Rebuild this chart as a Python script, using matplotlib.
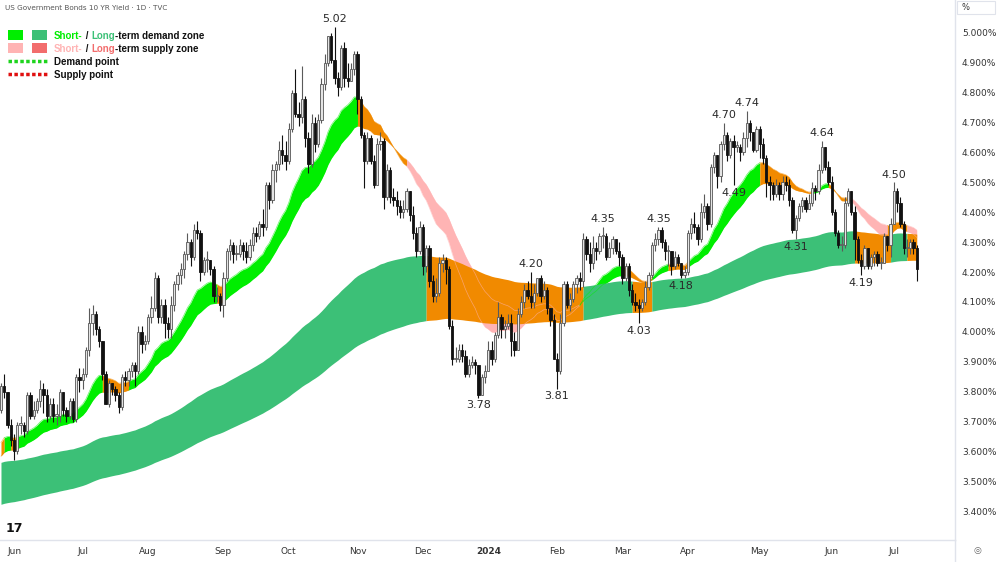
import numpy as np
import pandas as pd
import matplotlib
matplotlib.use('Agg')
import matplotlib.pyplot as plt
from matplotlib import font_manager
from matplotlib.patches import Rectangle
from matplotlib.lines import Line2D

# trading days shown on the chart
first_day = '2023-05-25'
last_day = '2024-07-11'
holidays = ['2023-05-29', '2023-06-19', '2023-07-04', '2023-09-04', '2023-10-09',
            '2023-11-10', '2023-11-23', '2023-12-25', '2024-01-01', '2024-01-15',
            '2024-02-19', '2024-03-29', '2024-05-27', '2024-06-19', '2024-07-04']

# daily candles (10Y yield, %)
opens = [
    3.74, 3.82, 3.80, 3.69,  # May 23
    3.64, 3.60, 3.69, 3.69, 3.67, 3.79, 3.72, 3.74, 3.77, 3.81, 3.79, 3.72, 3.76, 3.72, 3.72, 3.80, 3.74, 3.72, 3.77, 3.71, 3.85,
    3.84, 3.86, 3.94, 4.03, 4.06, 4.01, 3.97, 3.86, 3.76, 3.83, 3.81, 3.79, 3.75, 3.85, 3.84, 3.87, 3.89, 3.87, 4.00, 3.96,
    3.97, 4.05, 4.08, 4.18, 4.05, 4.09, 4.03, 4.01, 4.09, 4.16, 4.19, 4.21, 4.26, 4.30, 4.25, 4.34, 4.33, 4.20, 4.24, 4.24, 4.21, 4.12, 4.12,
    4.09, 4.18, 4.27, 4.29, 4.26, 4.26, 4.29, 4.27, 4.25, 4.29, 4.33, 4.32, 4.36, 4.35, 4.49, 4.44, 4.54, 4.56, 4.61, 4.59,
    4.57, 4.68, 4.80, 4.73, 4.72, 4.78, 4.65, 4.56, 4.70, 4.63, 4.71, 4.83, 4.90, 4.99, 4.91, 4.85, 4.82, 4.95, 4.85, 4.84, 4.88,
    4.93, 4.78, 4.66, 4.57, 4.65, 4.57, 4.49, 4.63, 4.64, 4.45, 4.54, 4.45, 4.44, 4.42, 4.40, 4.41, 4.47, 4.39, 4.33, 4.27,
    4.35, 4.22, 4.28, 4.17, 4.12, 4.13, 4.23, 4.24, 4.21, 4.02, 3.91, 3.91, 3.94, 3.92, 3.86, 3.89, 3.90, 3.89, 3.79, 3.85,
    3.87, 3.94, 3.91, 3.99, 4.05, 4.01, 4.02, 4.03, 3.97, 3.94, 4.06, 4.10, 4.14, 4.12, 4.10, 4.13, 4.18, 4.12, 4.14, 4.08, 4.04,
    3.91, 3.87, 4.03, 4.16, 4.09, 4.11, 4.16, 4.18, 4.17, 4.31, 4.26, 4.23, 4.28, 4.27, 4.32, 4.32, 4.25, 4.28, 4.31, 4.27,
    4.25, 4.18, 4.22, 4.14, 4.10, 4.09, 4.08, 4.10, 4.15, 4.19, 4.29, 4.31, 4.34, 4.30, 4.27, 4.27, 4.22, 4.25, 4.23, 4.19,
    4.20, 4.33, 4.36, 4.35, 4.31, 4.40, 4.42, 4.36, 4.55, 4.59, 4.52, 4.63, 4.66, 4.59, 4.64, 4.62, 4.62, 4.60, 4.65, 4.70, 4.67, 4.61,
    4.68, 4.63, 4.58, 4.50, 4.49, 4.46, 4.49, 4.46, 4.50, 4.49, 4.44, 4.34, 4.38, 4.42, 4.44, 4.41, 4.43, 4.48, 4.47, 4.54, 4.62, 4.55,
    4.50, 4.40, 4.33, 4.29, 4.29, 4.43, 4.47, 4.40, 4.31, 4.24, 4.22, 4.28, 4.22, 4.25, 4.26, 4.23, 4.23, 4.32, 4.29,
    4.36, 4.47, 4.43, 4.36, 4.28, 4.28, 4.30, 4.28,
]
highs = [
    3.83, 3.86, 3.80, 3.71,
    3.66, 3.70, 3.72, 3.70, 3.80, 3.80, 3.77, 3.78, 3.84, 3.83, 3.81, 3.78, 3.78, 3.76, 3.81, 3.80, 3.75, 3.78, 3.78, 3.86, 3.88,
    3.88, 3.95, 4.08, 4.09, 4.07, 4.02, 3.97, 3.87, 3.84, 3.83, 3.82, 3.80, 3.86, 3.87, 3.88, 3.90, 3.90, 4.02, 4.02, 3.99,
    4.06, 4.12, 4.20, 4.19, 4.11, 4.11, 4.05, 4.12, 4.17, 4.20, 4.23, 4.27, 4.33, 4.31, 4.36, 4.37, 4.34, 4.25, 4.27, 4.24, 4.22, 4.15, 4.13,
    4.20, 4.28, 4.31, 4.30, 4.29, 4.31, 4.30, 4.30, 4.31, 4.35, 4.35, 4.37, 4.41, 4.50, 4.50, 4.56, 4.57, 4.64, 4.66, 4.64,
    4.70, 4.81, 4.88, 4.77, 4.89, 4.79, 4.67, 4.73, 4.72, 4.73, 4.85, 4.93, 4.99, 5.00, 5.02, 4.87, 4.96, 4.97, 4.90, 4.90, 4.94,
    4.94, 4.79, 4.67, 4.67, 4.66, 4.59, 4.65, 4.67, 4.65, 4.56, 4.55, 4.48, 4.47, 4.44, 4.44, 4.48, 4.47, 4.42, 4.35, 4.37,
    4.36, 4.29, 4.29, 4.19, 4.18, 4.25, 4.26, 4.25, 4.22, 4.04, 3.95, 3.96, 3.96, 3.94, 3.91, 3.92, 3.91, 3.89, 3.86, 3.89,
    3.97, 3.97, 4.00, 4.10, 4.06, 4.04, 4.06, 4.06, 4.00, 4.08, 4.12, 4.16, 4.17, 4.20, 4.16, 4.18, 4.19, 4.17, 4.15, 4.08, 4.06,
    3.93, 4.06, 4.17, 4.17, 4.13, 4.17, 4.19, 4.20, 4.33, 4.32, 4.30, 4.32, 4.30, 4.33, 4.35, 4.33, 4.30, 4.32, 4.31, 4.30,
    4.26, 4.23, 4.23, 4.16, 4.13, 4.11, 4.11, 4.17, 4.20, 4.30, 4.33, 4.35, 4.35, 4.31, 4.29, 4.27, 4.27, 4.26, 4.23, 4.22,
    4.34, 4.38, 4.40, 4.36, 4.43, 4.46, 4.43, 4.56, 4.60, 4.59, 4.64, 4.70, 4.67, 4.65, 4.66, 4.64, 4.63, 4.67, 4.74, 4.71, 4.67, 4.69,
    4.69, 4.65, 4.59, 4.52, 4.50, 4.51, 4.50, 4.52, 4.52, 4.51, 4.45, 4.39, 4.43, 4.45, 4.45, 4.46, 4.50, 4.49, 4.56, 4.64, 4.62, 4.57,
    4.52, 4.41, 4.34, 4.32, 4.45, 4.48, 4.47, 4.42, 4.32, 4.26, 4.29, 4.28, 4.26, 4.27, 4.27, 4.25, 4.33, 4.32, 4.38,
    4.50, 4.48, 4.45, 4.37, 4.31, 4.31, 4.31, 4.29,
]
lows = [
    3.73, 3.78, 3.68, 3.62,
    3.57, 3.59, 3.66, 3.65, 3.66, 3.71, 3.71, 3.73, 3.75, 3.73, 3.70, 3.71, 3.70, 3.69, 3.70, 3.72, 3.70, 3.71, 3.70, 3.70, 3.80,
    3.81, 3.85, 3.92, 3.99, 3.99, 3.95, 3.84, 3.76, 3.75, 3.79, 3.77, 3.73, 3.74, 3.82, 3.82, 3.85, 3.82, 3.86, 3.93, 3.94,
    3.96, 4.03, 4.07, 4.03, 4.03, 3.98, 3.98, 3.98, 4.07, 4.14, 4.16, 4.18, 4.24, 4.22, 4.24, 4.31, 4.17, 4.19, 4.20, 4.19, 4.10, 4.10, 4.07,
    4.05, 4.17, 4.24, 4.23, 4.24, 4.25, 4.24, 4.23, 4.24, 4.27, 4.30, 4.31, 4.32, 4.34, 4.41, 4.43, 4.50, 4.54, 4.56, 4.54,
    4.56, 4.67, 4.72, 4.69, 4.70, 4.62, 4.53, 4.55, 4.60, 4.62, 4.70, 4.81, 4.89, 4.90, 4.83, 4.79, 4.81, 4.82, 4.82, 4.84, 4.86,
    4.73, 4.65, 4.48, 4.56, 4.56, 4.48, 4.49, 4.61, 4.41, 4.44, 4.43, 4.42, 4.39, 4.38, 4.38, 4.40, 4.37, 4.31, 4.25, 4.26,
    4.19, 4.20, 4.15, 4.10, 4.10, 4.12, 4.20, 4.16, 4.01, 3.89, 3.90, 3.90, 3.90, 3.85, 3.85, 3.88, 3.86, 3.78, 3.79, 3.83,
    3.87, 3.89, 3.90, 3.98, 3.98, 3.98, 4.01, 3.92, 3.92, 3.94, 4.05, 4.08, 4.11, 4.08, 4.08, 4.12, 4.10, 4.11, 4.06, 4.02, 3.91,
    3.81, 3.86, 4.02, 4.08, 4.07, 4.10, 4.13, 4.14, 4.15, 4.24, 4.20, 4.21, 4.24, 4.26, 4.28, 4.24, 4.25, 4.26, 4.26, 4.22,
    4.16, 4.17, 4.12, 4.09, 4.07, 4.03, 4.07, 4.09, 4.14, 4.18, 4.27, 4.29, 4.28, 4.24, 4.22, 4.19, 4.21, 4.22, 4.18, 4.18,
    4.19, 4.31, 4.33, 4.29, 4.30, 4.38, 4.34, 4.35, 4.53, 4.48, 4.50, 4.61, 4.57, 4.58, 4.49, 4.60, 4.57, 4.59, 4.62, 4.64, 4.60, 4.60,
    4.58, 4.56, 4.45, 4.44, 4.44, 4.45, 4.44, 4.44, 4.47, 4.42, 4.33, 4.31, 4.37, 4.40, 4.40, 4.41, 4.42, 4.44, 4.46, 4.53, 4.54, 4.49,
    4.39, 4.32, 4.28, 4.27, 4.28, 4.42, 4.39, 4.24, 4.23, 4.19, 4.21, 4.21, 4.21, 4.22, 4.22, 4.21, 4.23, 4.27, 4.25,
    4.36, 4.40, 4.35, 4.26, 4.25, 4.26, 4.26, 4.17,
]
closes = [
    3.82, 3.80, 3.69, 3.64,
    3.60, 3.69, 3.69, 3.67, 3.79, 3.72, 3.74, 3.77, 3.81, 3.79, 3.72, 3.76, 3.72, 3.72, 3.80, 3.74, 3.72, 3.77, 3.71, 3.85, 3.84,
    3.86, 3.94, 4.03, 4.06, 4.01, 3.97, 3.86, 3.76, 3.83, 3.81, 3.79, 3.75, 3.85, 3.84, 3.87, 3.89, 3.87, 4.00, 3.96, 3.97,
    4.05, 4.08, 4.18, 4.05, 4.09, 4.03, 4.01, 4.09, 4.16, 4.19, 4.21, 4.26, 4.30, 4.25, 4.34, 4.33, 4.20, 4.24, 4.24, 4.21, 4.12, 4.12, 4.09,
    4.18, 4.27, 4.29, 4.26, 4.26, 4.29, 4.27, 4.25, 4.29, 4.33, 4.32, 4.36, 4.35, 4.49, 4.44, 4.54, 4.56, 4.61, 4.59, 4.57,
    4.68, 4.80, 4.73, 4.72, 4.78, 4.65, 4.56, 4.70, 4.63, 4.71, 4.83, 4.90, 4.99, 4.91, 4.85, 4.82, 4.95, 4.85, 4.84, 4.88, 4.93,
    4.78, 4.66, 4.57, 4.65, 4.57, 4.49, 4.63, 4.64, 4.45, 4.54, 4.45, 4.44, 4.42, 4.40, 4.41, 4.47, 4.39, 4.33, 4.27, 4.35,
    4.22, 4.28, 4.17, 4.12, 4.13, 4.23, 4.24, 4.21, 4.02, 3.91, 3.91, 3.94, 3.92, 3.86, 3.89, 3.90, 3.89, 3.79, 3.85, 3.87,
    3.94, 3.91, 3.99, 4.05, 4.01, 4.02, 4.03, 3.97, 3.94, 4.06, 4.10, 4.14, 4.12, 4.10, 4.13, 4.18, 4.12, 4.14, 4.08, 4.04, 3.91,
    3.87, 4.03, 4.16, 4.09, 4.11, 4.16, 4.18, 4.17, 4.31, 4.26, 4.23, 4.28, 4.27, 4.32, 4.32, 4.25, 4.28, 4.31, 4.27, 4.25,
    4.18, 4.22, 4.14, 4.10, 4.09, 4.08, 4.10, 4.15, 4.19, 4.29, 4.31, 4.34, 4.30, 4.27, 4.27, 4.22, 4.25, 4.23, 4.19, 4.20,
    4.33, 4.36, 4.35, 4.31, 4.40, 4.42, 4.36, 4.55, 4.59, 4.52, 4.63, 4.66, 4.59, 4.64, 4.62, 4.62, 4.60, 4.65, 4.70, 4.67, 4.61, 4.68,
    4.63, 4.58, 4.50, 4.49, 4.46, 4.49, 4.46, 4.50, 4.49, 4.44, 4.34, 4.38, 4.42, 4.44, 4.41, 4.43, 4.48, 4.47, 4.54, 4.62, 4.55, 4.50,
    4.40, 4.33, 4.29, 4.29, 4.43, 4.47, 4.40, 4.31, 4.24, 4.22, 4.28, 4.22, 4.25, 4.26, 4.23, 4.23, 4.32, 4.29, 4.36,
    4.47, 4.43, 4.36, 4.28, 4.28, 4.30, 4.28, 4.21,
]

# zone lines: EMA periods and their values just before the first bar
short_fast_period, short_slow_period = 20, 33
long_fast_period, long_slow_period = 140, 230
short_fast_seed, short_slow_seed = 3.61, 3.57
long_fast_seed, long_slow_seed = 3.56, 3.42

# zone colour runs (start date of each run)
short_starts = ['2023-05-25', '2023-05-26', '2023-05-31', '2023-06-02', '2023-07-12', '2023-07-24',
                '2023-08-30', '2023-09-01', '2023-11-01', '2023-11-24', '2024-02-12', '2024-03-01',
                '2024-03-14', '2024-03-21', '2024-04-01', '2024-05-01', '2024-05-23', '2024-05-31',
                '2024-06-10', '2024-06-27', '2024-07-08']
short_states = ['mid', 'up', 'mid', 'up', 'mid', 'up', 'mid', 'up', 'mid', 'down', 'up', 'mid',
                'up', 'mid', 'up', 'mid', 'up', 'mid', 'down', 'mid', 'down']
long_starts = ['2023-05-25', '2023-12-04', '2024-02-13', '2024-03-06', '2024-03-14',
               '2024-06-12', '2024-06-28', '2024-07-08']
long_states = ['up', 'mid', 'up', 'mid', 'up', 'mid', 'up', 'mid']

# swing labels
swing_dates = ['2023-10-23', '2023-12-27', '2024-01-22', '2024-02-01', '2024-02-22', '2024-03-08',
               '2024-03-18', '2024-03-27', '2024-04-16', '2024-04-19', '2024-04-25', '2024-05-16',
               '2024-05-29', '2024-06-14', '2024-07-01']
swing_text = ['5.02', '3.78', '4.20', '3.81', '4.35', '4.03', '4.35', '4.18', '4.70', '4.49',
              '4.74', '4.31', '4.64', '4.19', '4.50']
swing_side = ['high', 'low', 'high', 'low', 'high', 'low', 'high', 'low', 'high', 'low',
              'high', 'low', 'high', 'low', 'high']

y_ticks = [3.4, 3.5, 3.6, 3.7, 3.8, 3.9, 4.0, 4.1, 4.2, 4.3, 4.4, 4.5, 4.6, 4.7, 4.8, 4.9, 5.0]

BRIGHT = '#00ee00'
DARK = '#3cc077'
PINK = '#ffb4b4'
RED = '#f26d6d'
ORANGE = '#f18a00'
short_colors = {'up': BRIGHT, 'mid': ORANGE, 'down': PINK}
long_colors = {'up': DARK, 'mid': ORANGE, 'down': RED}


def ema(values, period, seed):
    a = 2.0 / (period + 1)
    out = np.empty(len(values))
    e = seed
    for i, v in enumerate(values):
        e = e + a * (v - e)
        out[i] = e
    return out


dates = pd.bdate_range(first_day, last_day)
dates = dates[~dates.isin(pd.to_datetime(holidays))]
o = np.array(opens); h = np.array(highs); l = np.array(lows); c = np.array(closes)
n = len(dates)
assert n == len(o) == len(h) == len(l) == len(c), (n, len(o), len(h), len(l), len(c))
x = np.arange(n)

sf = ema(c, short_fast_period, short_fast_seed)
ss = ema(c, short_slow_period, short_slow_seed)
lf = ema(c, long_fast_period, long_fast_seed)
ls = ema(c, long_slow_period, long_slow_seed)

names = {f.name for f in font_manager.fontManager.ttflist}
if 'Liberation Sans Narrow' in names:
    leg_font, leg_size = 'Liberation Sans Narrow', 8.6
else:
    leg_font, leg_size = 'Liberation Sans', 7.0

fig = plt.figure(figsize=(10, 5.62), dpi=100)
ax = fig.add_axes([0, 22 / 562, 955 / 1000, 540 / 562])


def fill_runs(starts, states, top, bot, colors, z):
    idx = list(dates.searchsorted(pd.to_datetime(starts))) + [n - 1]
    for k, st in enumerate(states):
        a, b = idx[k], idx[k + 1]
        ax.fill_between(x[a:b + 1], top[a:b + 1], bot[a:b + 1], color=colors[st], lw=0, zorder=z)
    return idx


sidx = fill_runs(short_starts, short_states, sf, ss, short_colors, 1)
fill_runs(long_starts, long_states, lf, ls, long_colors, 2)
# faint outline of the short zone where it runs behind the long one
for k, st in enumerate(short_states):
    a, b = sidx[k], sidx[k + 1]
    for line in (sf, ss):
        ax.plot(x[a:b + 1], line[a:b + 1], color=short_colors[st], lw=0.5, alpha=0.6, zorder=2.5)

# candles
up = c >= o
body_lo = np.minimum(o, c)
body_h = np.maximum(np.abs(c - o), 0.004)
ax.vlines(x[up], l[up], h[up], color='#5a5a5a', lw=0.8, zorder=3)
ax.vlines(x[~up], l[~up], h[~up], color='#111111', lw=0.8, zorder=3)
ax.bar(x[up], body_h[up], bottom=body_lo[up], width=0.7, color='#e4e4e4',
       edgecolor='#555555', lw=0.6, zorder=4)
ax.bar(x[~up], body_h[~up], bottom=body_lo[~up], width=0.7, color='#111111',
       edgecolor='#111111', lw=0.6, zorder=4)

# swing labels
for d, t, s in zip(swing_dates, swing_text, swing_side):
    i = dates.get_loc(pd.Timestamp(d))
    if s == 'high':
        ax.annotate(t, (i, h[i]), xytext=(0, 2), textcoords='offset points', ha='center',
                    va='bottom', fontsize=8, color='#2a2a2a', zorder=6)
    else:
        ax.annotate(t, (i, l[i]), xytext=(0, -2), textcoords='offset points', ha='center',
                    va='top', fontsize=8, color='#2a2a2a', zorder=6)

ax.set_xlim(-0.3, 291.7)
ax.set_ylim(3.304, 5.110)

# axes styling
for side in ('top', 'left'):
    ax.spines[side].set_visible(False)
for side in ('right', 'bottom'):
    ax.spines[side].set_color('#e0e3eb')
    ax.spines[side].set_linewidth(1)
ax.yaxis.tick_right()
ax.set_yticks(y_ticks)
ax.set_yticklabels(['%.3f%%' % v for v in y_ticks])
ax.tick_params(axis='y', length=0, pad=5, labelsize=6.5, labelcolor='#333333')

month_first = pd.Series(x, index=dates).groupby([dates.year, dates.month]).first()
tick_pos, tick_lab = [], []
for (yr, mo), i in month_first.items():
    if yr == 2023 and mo == 5:
        continue
    tick_pos.append(i)
    tick_lab.append(str(yr) if mo == 1 else dates[i].strftime('%b'))
ax.set_xticks(tick_pos)
ax.set_xticklabels(tick_lab)
ax.tick_params(axis='x', length=0, pad=5, labelsize=6.5, labelcolor='#333333')
for lab in ax.get_xticklabels():
    if lab.get_text() == '2024':
        lab.set_fontweight('bold')

# title
fig.text(5 / 1000, 1 - 8 / 562, 'US Government Bonds 10 YR Yield \u00b7 1D \u00b7 TVC',
         fontsize=5.2, color='#555555', va='center', ha='left')


# legend
def px(xp, yp):
    return xp / 1000, 1 - yp / 562


for (xp, yp, col) in [(8, 30, BRIGHT), (32, 30, DARK), (8, 43, PINK), (32, 43, RED)]:
    fig.patches.append(Rectangle(px(xp, yp + 10), 15 / 1000, 10 / 562, transform=fig.transFigure,
                                 color=col, lw=0))
for yp, col in [(61, '#1ed41e'), (74, '#e01010')]:
    fig.lines.append(Line2D([8 / 1000, 48 / 1000], [1 - yp / 562] * 2, transform=fig.transFigure,
                            color=col, lw=2.5, ls=(0, (1, 0.7))))


def legend_line(parts, xp, yp):
    prev = fig.text(*px(xp, yp), parts[0][0], color=parts[0][1], fontsize=leg_size,
                    fontweight='bold', family=leg_font, va='bottom', ha='left')
    for s, col in parts[1:]:
        prev = ax.annotate(s, xy=(1, 0), xycoords=prev, va='bottom', ha='left', color=col,
                           fontsize=leg_size, fontweight='bold', family=leg_font,
                           annotation_clip=False)


legend_line([('Short-', BRIGHT), (' / ', '#111111'), ('Long', DARK), ('-term demand zone', '#111111')], 54, 41)
legend_line([('Short-', PINK), (' / ', '#111111'), ('Long', RED), ('-term supply zone', '#111111')], 54, 54)
legend_line([('Demand point', '#111111')], 54, 67)
legend_line([('Supply point', '#111111')], 54, 80)

# right-hand extras
fig.patches.append(Rectangle(px(957, 14), 38 / 1000, 13 / 562, transform=fig.transFigure,
                             fill=False, edgecolor='#e0e3eb', lw=0.8))
fig.text(*px(961, 8), '%', fontsize=6, color='#333333', va='center', ha='left')
fig.lines.append(Line2D([955 / 1000] * 2, [0, 22 / 562], transform=fig.transFigure, color='#e0e3eb', lw=1))
fig.text(*px(977, 551), '\u25ce', fontsize=6.5, color='#666666', va='center', ha='center')
fig.text(*px(6, 528), '17', fontsize=9, fontweight='heavy', color='#111111', va='center', ha='left')

fig.savefig('out.png', dpi=100, facecolor='white')
